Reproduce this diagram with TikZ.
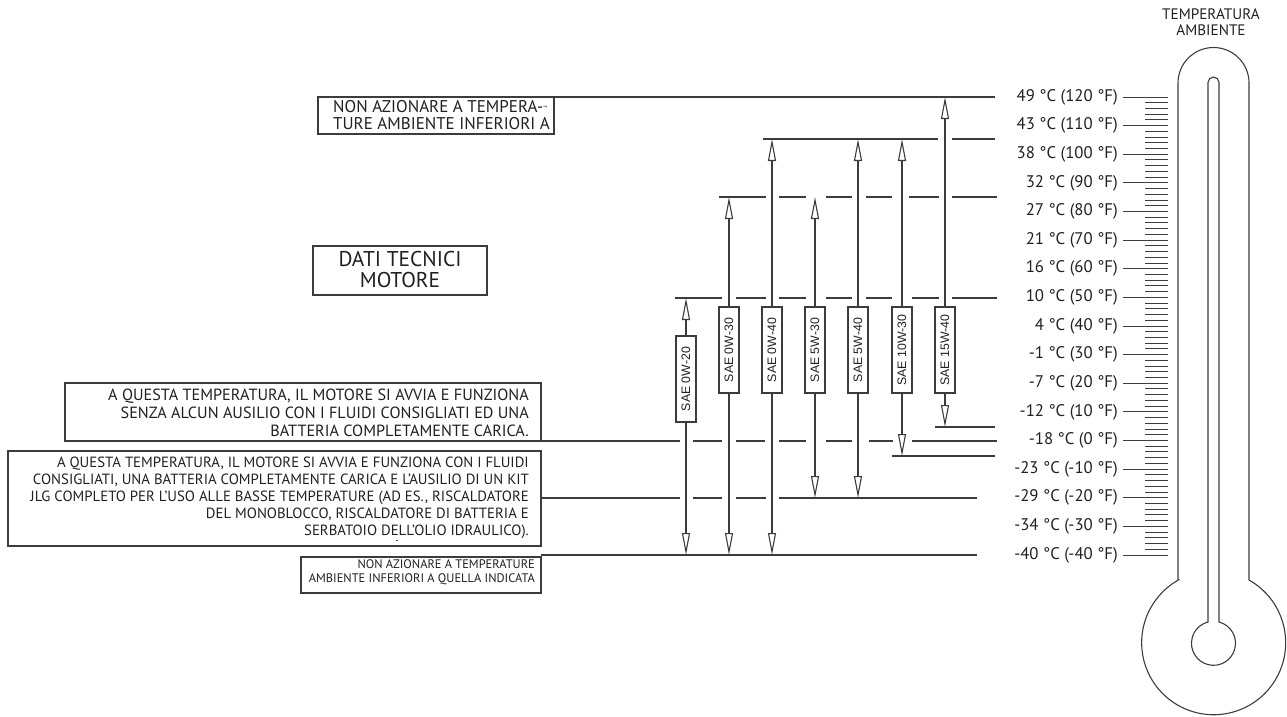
\documentclass[tikz,border=0pt]{standalone}
\usepackage{fontspec}
\setmainfont{PT Sans}
\newfontfamily\arialf{Liberation Sans}
\usetikzlibrary{arrows.meta}
\definecolor{lc}{HTML}{3C3C3C}
\definecolor{tc}{HTML}{231F20}
\begin{document}
\begin{tikzpicture}[x=1pt,y=-1pt,
  ln/.style={draw=lc,line width=1.1pt},
  arr/.style={ln,-{Triangle[open,length=22pt,width=8pt]}},
  sae/.style={draw=lc,line width=1.1pt,fill=white,rotate=90,minimum width=86pt,minimum height=20pt,inner sep=0pt,font=\arialf\fontsize{12.3}{14}\selectfont,text=tc},
  tbox/.style={draw=lc,line width=1.1pt,inner sep=0pt},
  txt/.style={inner sep=0pt,text=tc},
  thermo/.style={draw=lc,line width=1.1pt},
  scl/.style={inner sep=0pt,anchor=east,text=tc,font=\fontsize{16.8}{18}\selectfont}
]
\useasboundingbox (0,0) rectangle (1287,716);

% horizontal reference lines
\foreach \y/\a/\b in {97/554/995,
  139/763/938, 139/952/995,
  197/719/766, 197/779/806, 197/826/852, 197/866/892, 197/909/939, 197/952/997,
  298/675/722, 298/736/766, 298/779/806, 298/826/852, 298/866/892, 298/912/939, 298/952/997,
  427/935/995,
  441/541/680, 441/693/722, 441/736/765, 441/779/806, 441/826/852, 441/869/893, 441/912/997,
  456/892/995,
  498/541/680, 498/693/722, 498/736/766, 498/779/977,
  555/541/977}
  {\draw[ln] (\a,\y) -- (\b,\y);}

% oil grade bars
\foreach \x/\n/\lab/\t/\b/\c in {686/s1/SAE 0W-20/298/555/379,
  729/s2/SAE 0W-30/197/555/350,
  772/s3/SAE 0W-40/139/555/350,
  815/s4/SAE 5W-30/197/498/350,
  858/s5/SAE 5W-40/139/498/350,
  902/s6/SAE 10W-30/139/456/350,
  945/s7/SAE 15W-40/97/427/350}
{
  \node[sae] (\n) at (\x,\c) {\lab};
  \coordinate (\n-t) at (\x,\t);
  \coordinate (\n-b) at (\x,\b);
  \draw[arr] (\n.east) -- (\n-t);
  \draw[arr] (\n.west) -- (\n-b);
}

% text boxes
\node[tbox,minimum width=236pt,minimum height=37pt] (boxtop) at (436,115.5) {};
\node[txt,anchor=west,align=left,font=\fontsize{17}{17}\selectfont] (ttop) at (333,115) {NON AZIONARE A TEMPERA-{\fontsize{8}{8}\selectfont\raisebox{3pt}{¬}}\\TURE AMBIENTE INFERIORI A};

\node[tbox,minimum width=174pt,minimum height=49pt] (boxdati) at (400,270.5) {};
\node[txt,align=center,font=\fontsize{21.4}{21}\selectfont] (tdati) at (400,269.5) {DATI TECNICI\\MOTORE};

\node[tbox,minimum width=476pt,minimum height=58pt] (box1) at (303,412) {};
\node[txt,anchor=east,align=right,font=\fontsize{16.2}{18}\selectfont] (t1) at (529,413) {A QUESTA TEMPERATURA, IL MOTORE SI AVVIA E FUNZIONA\\SENZA ALCUN AUSILIO CON I FLUIDI CONSIGLIATI ED UNA\\BATTERIA COMPLETAMENTE CARICA.};

\node[tbox,minimum width=533pt,minimum height=95pt] (box2) at (274.5,498.5) {};
\node[txt,anchor=east,align=right,font=\fontsize{14.8}{17}\selectfont] (t2) at (529,498) {A QUESTA TEMPERATURA, IL MOTORE SI AVVIA E FUNZIONA CON I FLUIDI\\CONSIGLIATI, UNA BATTERIA COMPLETAMENTE CARICA E L’AUSILIO DI UN KIT\\JLG COMPLETO PER L’USO ALLE BASSE TEMPERATURE (AD ES., RISCALDATORE\\DEL MONOBLOCCO, RISCALDATORE DI BATTERIA E\\SERBATOIO DELL’OLIO IDRAULICO).};
\fill[lc] (396,539.5) rectangle (398,541);

\node[tbox,minimum width=240pt,minimum height=36pt] (box3) at (421,575) {};
\node[txt,anchor=east,align=right,font=\fontsize{12.4}{14}\selectfont] (t3) at (535,572) {NON AZIONARE A TEMPERATURE\\AMBIENTE INFERIORI A QUELLA INDICATA};

% thermometer
\draw[thermo] (1178,580) -- (1178,83) arc[start angle=180,end angle=0,radius=35.5pt] -- (1249,580) arc[start angle=60.6,end angle=-240.6,radius=72pt] -- cycle;
\draw[thermo] (1208,622) -- (1208,82.5) arc[start angle=180,end angle=0,radius=5.5pt] -- (1219,622) arc[start angle=75.5,end angle=-255.5,radius=22pt] -- cycle;
\node[txt,align=center,font=\fontsize{15.2}{16}\selectfont] (tamb) at (1211,22) {TEMPERATURA\\AMBIENTE};

% minor ticks
\foreach \k in {0,...,80} {\draw[draw=lc,line width=1pt] (1145,97+\k*5.725) -- (1168,97+\k*5.725);}

% scale labels
\foreach \i/\lab in {0/49 °C (120 °F), 1/43 °C (110 °F), 2/38 °C (100 °F), 3/32 °C (90 °F),
  4/27 °C (80 °F), 5/21 °C (70 °F), 6/16 °C (60 °F), 7/10 °C (50 °F), 8/4 °C (40 °F),
  9/-1 °C (30 °F), 10/-7 °C (20 °F), 11/-12 °C (10 °F), 12/-18 °C (0 °F),
  13/-23 °C (-10 °F), 14/-29 °C (-20 °F), 15/-34 °C (-30 °F), 16/-40 °C (-40 °F)}
{
  \node[scl] (L\i) at (1118,97+\i*28.625) {\lab};
  \coordinate (T\i) at (1168,97+\i*28.625);
  \draw[draw=lc,line width=1pt] ([xshift=5pt]L\i.east) -- (T\i);
}
\end{tikzpicture}
\end{document}
